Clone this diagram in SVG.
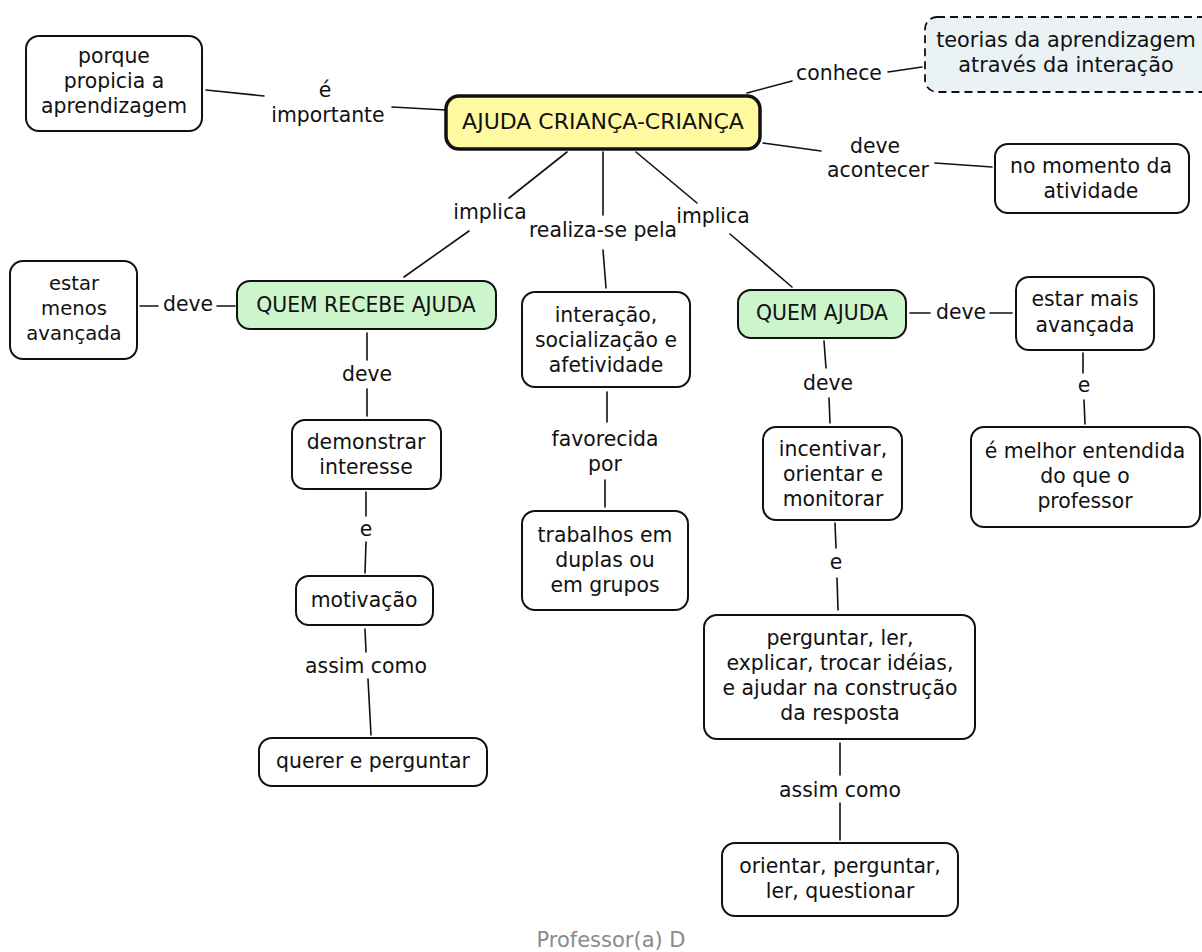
<svg xmlns="http://www.w3.org/2000/svg" width="1202" height="952" viewBox="0 0 1202 952">
  <style>
    .node rect { fill: #ffffff; stroke: #111111; stroke-width: 2; }
    .node.main rect { fill: #fffaa0; stroke-width: 3.5; }
    .node.green rect { fill: #ccf5cc; }
    .node.dash rect { fill: #eaf2f4; stroke-dasharray: 8 5; stroke-width: 1.8; }
    text { font-family: "DejaVu Sans", Verdana, sans-serif; font-size: 20.4px; fill: #111111; text-anchor: middle; }
    .links line { stroke: #111111; stroke-width: 1.6; stroke-linecap: round; }
    .footer { fill: #8a8a8a; font-size: 21px; }
  </style>

  <rect x="0" y="0" width="1202" height="952" fill="#ffffff"/>

  <!-- connectors -->
  <g class="links" id="connectors">
    <line x1="206" y1="90" x2="264" y2="96"/>
    <line x1="392" y1="107" x2="446" y2="110"/>
    <line x1="747" y1="93" x2="792" y2="81"/>
    <line x1="888" y1="72" x2="922" y2="67"/>
    <line x1="763" y1="143" x2="821" y2="151"/>
    <line x1="935" y1="163" x2="992" y2="167"/>
    <line x1="567" y1="152" x2="509" y2="198"/>
    <line x1="469" y1="231" x2="404" y2="277"/>
    <line x1="603" y1="152" x2="603" y2="215"/>
    <line x1="603" y1="250" x2="606" y2="288"/>
    <line x1="636" y1="152" x2="697" y2="203"/>
    <line x1="730" y1="234" x2="792" y2="287"/>
    <line x1="140" y1="306" x2="158" y2="306"/>
    <line x1="217" y1="306" x2="235" y2="306"/>
    <line x1="367" y1="333" x2="367" y2="360"/>
    <line x1="367" y1="389" x2="367" y2="416"/>
    <line x1="366" y1="492" x2="366" y2="516"/>
    <line x1="366" y1="542" x2="365" y2="573"/>
    <line x1="365" y1="629" x2="366" y2="652"/>
    <line x1="368" y1="679" x2="371" y2="735"/>
    <line x1="607" y1="392" x2="607" y2="422"/>
    <line x1="605" y1="480" x2="605" y2="507"/>
    <line x1="910" y1="313" x2="930" y2="313"/>
    <line x1="990" y1="313" x2="1012" y2="313"/>
    <line x1="824" y1="341" x2="826" y2="368"/>
    <line x1="829" y1="398" x2="830" y2="423"/>
    <line x1="1083" y1="353" x2="1083" y2="373"/>
    <line x1="1084" y1="400" x2="1085" y2="424"/>
    <line x1="835" y1="523" x2="836" y2="548"/>
    <line x1="837" y1="578" x2="838" y2="610"/>
    <line x1="840" y1="743" x2="840" y2="775"/>
    <line x1="840" y1="803" x2="840" y2="840"/>
  </g>

  <!-- link phrases -->
  <g id="link-labels">
    <text x="325" y="97">é</text>
    <text x="328" y="122">importante</text>
    <text x="839" y="80">conhece</text>
    <text x="875" y="153">deve</text>
    <text x="878" y="177">acontecer</text>
    <text x="490" y="219">implica</text>
    <text x="603" y="237">realiza-se pela</text>
    <text x="713" y="223">implica</text>
    <text x="188" y="311">deve</text>
    <text x="367" y="381">deve</text>
    <text x="366" y="536">e</text>
    <text x="366" y="673">assim como</text>
    <text x="605" y="446">favorecida</text>
    <text x="605" y="471">por</text>
    <text x="961" y="319">deve</text>
    <text x="828" y="390">deve</text>
    <text x="1084" y="392">e</text>
    <text x="836" y="569">e</text>
    <text x="840" y="797">assim como</text>
  </g>

  <!-- concepts -->
  <g class="node" id="n-porque">
    <rect x="26" y="36" width="176" height="95" rx="13"/>
    <text x="114" y="63">porque</text>
    <text x="114" y="88">propicia a</text>
    <text x="114" y="113">aprendizagem</text>
  </g>

  <g class="node main" id="n-ajuda">
    <rect x="446" y="96" width="314" height="53" rx="13"/>
    <text x="603" y="129" style="font-size:22px">AJUDA CRIANÇA-CRIANÇA</text>
  </g>

  <g class="node dash" id="n-teorias">
    <rect x="925" y="17" width="290" height="75" rx="12"/>
    <text x="1066" y="47" style="font-size:20.8px">teorias da aprendizagem</text>
    <text x="1066" y="72" style="font-size:20.8px">através da interação</text>
  </g>

  <g class="node" id="n-momento">
    <rect x="995" y="144" width="194" height="69" rx="13"/>
    <text x="1091" y="173">no momento da</text>
    <text x="1091" y="198">atividade</text>
  </g>

  <g class="node" id="n-menos">
    <rect x="10" y="261" width="127" height="98" rx="13"/>
    <text x="74" y="290" style="font-size:19.6px">estar</text>
    <text x="74" y="315" style="font-size:19.6px">menos</text>
    <text x="74" y="340" style="font-size:19.6px">avançada</text>
  </g>

  <g class="node green" id="n-recebe">
    <rect x="237" y="281" width="259" height="48" rx="13"/>
    <text x="366" y="312">QUEM RECEBE AJUDA</text>
  </g>

  <g class="node" id="n-interacao">
    <rect x="522" y="292" width="168" height="95" rx="13"/>
    <text x="606" y="322">interação,</text>
    <text x="606" y="347">socialização e</text>
    <text x="606" y="372">afetividade</text>
  </g>

  <g class="node green" id="n-quem-ajuda">
    <rect x="738" y="290" width="168" height="48" rx="13"/>
    <text x="822" y="320">QUEM AJUDA</text>
  </g>

  <g class="node" id="n-mais">
    <rect x="1016" y="277" width="138" height="73" rx="13"/>
    <text x="1085" y="306">estar mais</text>
    <text x="1085" y="332">avançada</text>
  </g>

  <g class="node" id="n-melhor">
    <rect x="971" y="427" width="229" height="100" rx="13"/>
    <text x="1085" y="458">é melhor entendida</text>
    <text x="1085" y="483">do que o</text>
    <text x="1085" y="508">professor</text>
  </g>

  <g class="node" id="n-demonstrar">
    <rect x="292" y="420" width="149" height="69" rx="13"/>
    <text x="366" y="449">demonstrar</text>
    <text x="366" y="474">interesse</text>
  </g>

  <g class="node" id="n-incentivar">
    <rect x="763" y="427" width="139" height="93" rx="13"/>
    <text x="833" y="456">incentivar,</text>
    <text x="833" y="481">orientar e</text>
    <text x="833" y="506">monitorar</text>
  </g>

  <g class="node" id="n-trabalhos">
    <rect x="522" y="511" width="166" height="99" rx="13"/>
    <text x="605" y="542">trabalhos em</text>
    <text x="605" y="567">duplas ou</text>
    <text x="605" y="592">em grupos</text>
  </g>

  <g class="node" id="n-motivacao">
    <rect x="296" y="576" width="137" height="49" rx="13"/>
    <text x="364" y="607">motivação</text>
  </g>

  <g class="node" id="n-perguntar">
    <rect x="704" y="615" width="271" height="124" rx="13"/>
    <text x="840" y="645">perguntar, ler,</text>
    <text x="840" y="670">explicar, trocar idéias,</text>
    <text x="840" y="695">e ajudar na construção</text>
    <text x="840" y="720">da resposta</text>
  </g>

  <g class="node" id="n-querer">
    <rect x="259" y="738" width="228" height="48" rx="13"/>
    <text x="373" y="768">querer e perguntar</text>
  </g>

  <g class="node" id="n-orientar">
    <rect x="722" y="843" width="236" height="73" rx="13"/>
    <text x="840" y="873">orientar, perguntar,</text>
    <text x="840" y="898">ler, questionar</text>
  </g>

  <text class="footer" x="611" y="947">Professor(a) D</text>
</svg>
